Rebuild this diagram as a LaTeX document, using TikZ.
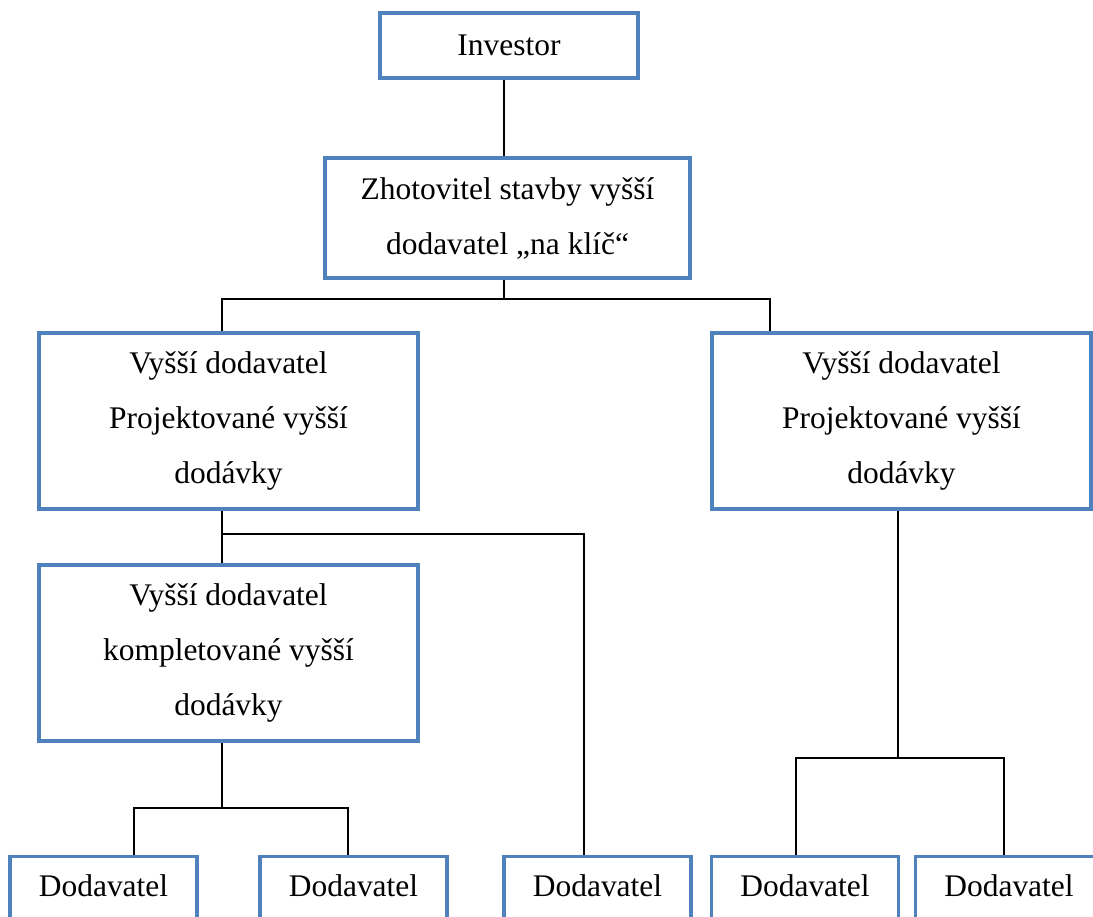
\documentclass[tikz,border=0pt]{standalone}
\usepackage{fontspec}
\setmainfont{Liberation Serif}

\definecolor{boxblue}{RGB}{79,129,189}
\tikzset{every picture/.style={line width=0.75pt}}
\tikzset{
	orgbox/.style={rectangle, draw=boxblue, line width=2.5pt, inner sep=0pt, align=center,
		font=\fontsize{23.6}{41.25}\selectfont},
	midbox/.style={orgbox, minimum width=284.25pt, minimum height=132pt},
	leafbox/.style={orgbox, minimum width=140.25pt, text height=29.6pt, text depth=60pt, anchor=base},
	conn/.style={draw=black, line width=0.9pt}
}

\begin{document}
\begin{tikzpicture}[x=0.75pt,y=0.75pt,yscale=-1,xscale=1]
			\useasboundingbox (0,0) rectangle (1093,917);
			\clip (0,0) rectangle (1093,917);

			% Boxes
			\node[orgbox, minimum width=193.5pt, minimum height=48.75pt] (inv) at (509,45.5) {Investor};
			\node[orgbox, minimum width=273.75pt, minimum height=90pt] (zhot) at (507.5,218) {Zhotovitel stavby vyšší\\dodavatel „na klíč“};
			\node[midbox] (vyssiL) at (228.5,421) {Vyšší dodavatel\\Projektované vyšší\\dodávky};
			\node[midbox] (vyssiR) at (901.5,421) {Vyšší dodavatel\\Projektované vyšší\\dodávky};
			\node[midbox] (kompl) at (228.5,653) {Vyšší dodavatel\\kompletované vyšší\\dodávky};
			% Bottom row
			\node[leafbox] (dod1) at (103.5,896) {Dodavatel};
			\node[leafbox] (dod2) at (353.5,896) {Dodavatel};
			\node[leafbox] (dod3) at (597.5,896) {Dodavatel};
			\node[leafbox] (dod4) at (805,896) {Dodavatel};
			\node[leafbox] (dod5) at (1009,896) {Dodavatel};

			% Junctions
			\coordinate (j1) at (504,299);
			\coordinate (j2) at (222,534);
			\coordinate (j3) at (222,808);
			\coordinate (j4) at (898,758);
			\coordinate (xR) at (770,0);
			\coordinate (x3) at (584,0);
			\coordinate (x1) at (134,0);
			\coordinate (x2) at (348,0);
			\coordinate (x4) at (796,0);
			\coordinate (x5) at (1004,0);

			%Straight Lines
			\draw[conn] (inv.south -| j1) -- (zhot.north -| j1);
			\draw[conn] (zhot.south -| j1) -- (j1);
			\draw[conn] (vyssiL.north -| j2) |- (j1) -| (vyssiR.north -| xR);
			\draw[conn] (vyssiL.south -| j2) -- (kompl.north -| j2);
			\draw[conn] (j2) -| (dod3.north -| x3);
			\draw[conn] (kompl.south -| j3) -- (j3);
			\draw[conn] (dod1.north -| x1) |- (j3) -| (dod2.north -| x2);
			\draw[conn] (vyssiR.south -| j4) -- (j4);
			\draw[conn] (dod4.north -| x4) |- (j4) -| (dod5.north -| x5);

		\end{tikzpicture}
\end{document}
